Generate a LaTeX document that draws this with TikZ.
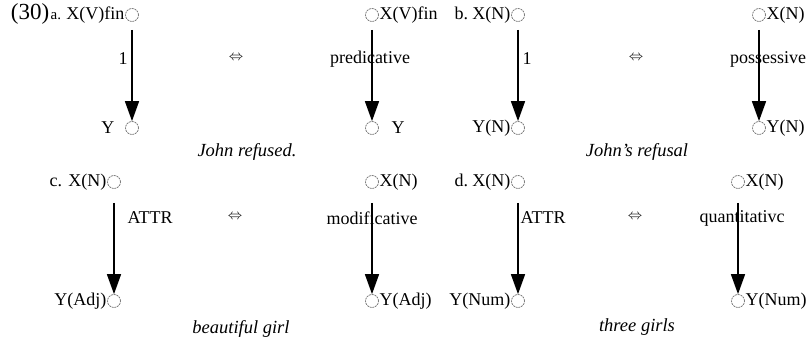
\documentclass[tikz,border=0pt]{standalone}
\usepackage{fontspec}
\setmainfont{Liberation Serif}
\usetikzlibrary{arrows.meta,positioning}
\begin{document}
\begin{tikzpicture}[x=1pt, y=-1pt,
        slot/.style={circle, draw=black!55, dash pattern=on 2pt off 0.8pt, line width=0.7pt, minimum size=13pt, inner sep=0pt},
        word/.style={inner sep=0.5pt, font=\fontsize{18}{18}\selectfont},
        dep/.style={line width=1.5pt, -{Triangle[length=20pt, width=14pt]}},
        eqv/.style={inner sep=0pt, font=\fontsize{14}{14}\selectfont},
        gloss/.style={inner sep=0pt, font=\fontsize{18.5}{18.5}\selectfont\itshape}]
        \useasboundingbox (0, 0) rectangle (812, 337);
        % a. finite verb
        \node [slot, name=a_x1] at (132, 15) {};
        \node [slot, name=a_y1] at (132, 128) {};
        \node [slot, name=a_x2] at (372, 15) {};
        \node [slot, name=a_y2] at (372, 128) {};
        \node [word, left=0pt of a_x1, name=a_xw1] {X(V)fin};
        \node [word, left=10pt of a_y1, name=a_yw1] {Y};
        \node [word, right=0pt of a_x2, name=a_xw2] {X(V)fin};
        \node [word, right=12pt of a_y2, name=a_yw2] {Y};
        \node [word, font=\fontsize{15}{15}\selectfont, anchor=base east, name=a_tag] at ([xshift=-4pt] a_xw1.base west) {a.};
        \node [word, font=\fontsize{23}{23}\selectfont, anchor=base east, name=ex_num] at (a_tag.base west) {(30)};
        \draw [dep, shorten <=8pt] (a_x1) -- (a_y1);
        \draw [dep, shorten <=8pt] (a_x2) -- (a_y2);
        \node [word, name=a_r1] at (123, 59) {1};
        \node [word, name=a_r2] at (370, 59) {predicative};
        \node [eqv, name=a_eq] at (236, 58) {$\Leftrightarrow$};
        \node [gloss, name=a_ex] at (247, 152) {John refused.};
        % b. nominal
        \node [slot, name=b_x1] at (518, 15) {};
        \node [slot, name=b_y1] at (518, 128) {};
        \node [slot, name=b_x2] at (759, 15) {};
        \node [slot, name=b_y2] at (759, 128) {};
        \node [word, left=0pt of b_x1, name=b_xw1] {X(N)};
        \node [word, left=0pt of b_y1, name=b_yw1] {Y(N)};
        \node [word, right=0pt of b_x2, name=b_xw2] {X(N)};
        \node [word, right=0pt of b_y2, name=b_yw2] {Y(N)};
        \node [word, anchor=base east, name=b_tag] at ([xshift=-3pt] b_xw1.base west) {b.};
        \draw [dep, shorten <=8pt] (b_x1) -- (b_y1);
        \draw [dep, shorten <=8pt] (b_x2) -- (b_y2);
        \node [word, name=b_r1] at (527, 59) {1};
        \node [word, name=b_r2] at (768, 59) {possessive};
        \node [eqv, name=b_eq] at (636, 58) {$\Leftrightarrow$};
        \node [gloss, name=b_ex] at (637, 152) {John's refusal};
        % c. adjective
        \node [slot, name=c_x1] at (114, 182) {};
        \node [slot, name=c_y1] at (114, 301) {};
        \node [slot, name=c_x2] at (372, 182) {};
        \node [slot, name=c_y2] at (372, 301) {};
        \node [word, left=0pt of c_x1, name=c_xw1] {X(N)};
        \node [word, left=0pt of c_y1, name=c_yw1] {Y(Adj)};
        \node [word, right=0pt of c_x2, name=c_xw2] {X(N)};
        \node [word, right=0pt of c_y2, name=c_yw2] {Y(Adj)};
        \node [word, anchor=base east, name=c_tag] at ([xshift=-5pt] c_xw1.base west) {c.};
        \draw [dep, shorten <=14pt] (c_x1) -- (c_y1);
        \draw [dep, shorten <=14pt] (c_x2) -- (c_y2);
        \node [word, name=c_r1] at (150, 218) {ATTR};
        \node [word, name=c_r2] at (372, 218) {modificative};
        \node [eqv, name=c_eq] at (235, 217) {$\Leftrightarrow$};
        \node [gloss, name=c_ex] at (241, 329) {beautiful girl};
        % d. numeral
        \node [slot, name=d_x1] at (518, 182) {};
        \node [slot, name=d_y1] at (518, 301) {};
        \node [slot, name=d_x2] at (738, 182) {};
        \node [slot, name=d_y2] at (738, 301) {};
        \node [word, left=0pt of d_x1, name=d_xw1] {X(N)};
        \node [word, left=0pt of d_y1, name=d_yw1] {Y(Num)};
        \node [word, right=0pt of d_x2, name=d_xw2] {X(N)};
        \node [word, right=0pt of d_y2, name=d_yw2] {Y(Num)};
        \node [word, anchor=base east, name=d_tag] at ([xshift=-3pt] d_xw1.base west) {d.};
        \draw [dep, shorten <=14pt] (d_x1) -- (d_y1);
        \draw [dep, shorten <=14pt] (d_x2) -- (d_y2);
        \node [word, name=d_r1] at (543, 218) {ATTR};
        \node [word, name=d_r2] at (742, 218) {quantitativc};
        \node [eqv, name=d_eq] at (635, 217) {$\Leftrightarrow$};
        \node [gloss, name=d_ex] at (637, 327) {three girls};
    \end{tikzpicture}
\end{document}
